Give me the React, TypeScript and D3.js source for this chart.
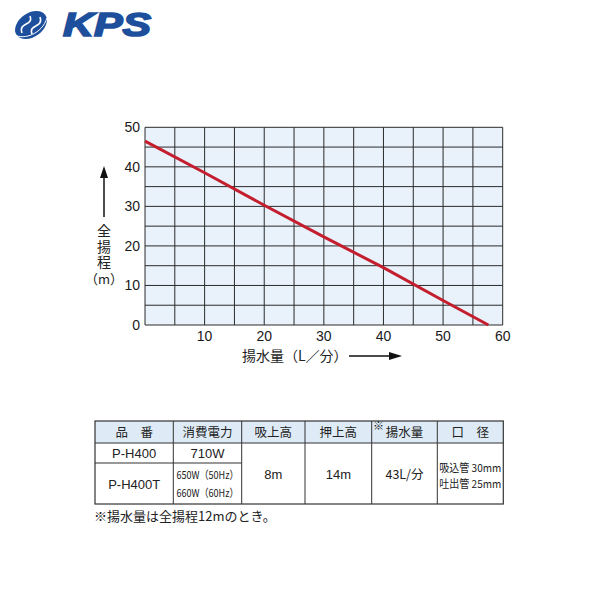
import React from "react";
import * as d3 from "d3";

const xTicks = [10, 20, 30, 40, 50, 60];
const yTicks = [0, 10, 20, 30, 40, 50];
const flow = [0, 10, 20, 30, 40, 50, 57.6];
const head = [46.5, 38.5, 30.3, 22.3, 14.5, 6.2, 0];

const tableHeaders = ["品　番", "消費電力", "吸上高", "押上高", "揚水量", "口　径"];
const models = ["P-H400", "P-H400T"];
const powers = ["710W", "650W（50Hz）", "660W（60Hz）"];
const suction = "8m";
const pushHead = "14m";
const capacity = "43L/分";
const bores = ["吸込管 30mm", "吐出管 25mm"];
const footnote = "※揚水量は全揚程12mのとき。";

const FONT = "'Liberation Sans', Arial, 'Noto Sans CJK JP', sans-serif";
const JP = "'Noto Sans CJK JP', 'Liberation Sans', sans-serif";

export default function App() {
  const x = d3.scaleLinear().domain([0, 60]).range([145, 502.7]);
  const y = d3.scaleLinear().domain([0, 50]).range([325, 127.3]);
  const gridX = d3.range(0, 61, 5);
  const gridY = d3.range(0, 51, 5);
  const pts = flow.map((f, i) => [f, head[i]] as [number, number]);
  const line = d3
    .line<[number, number]>()
    .x((d) => x(d[0]))
    .y((d) => y(d[1]));

  const colX = [95, 173.3, 241.7, 305, 371.7, 437.3, 503.3];
  const rowY = [421, 443, 463, 504];
  const cx = (i: number) => (colX[i] + colX[i + 1]) / 2;
  const border = "#333";

  return (
    <svg width={606} height={606} style={{ position: "absolute", left: 0, top: 0, background: "#fff" }}>
      {/* logo */}
      <g>
        <ellipse cx={31} cy={25} rx={17.5} ry={12} transform="rotate(-35 31 25)" fill="#1d4f9c" />
        <path d="M22,33 C18,22 34,26 30,16 M32,34 C28,24 44,28 40,17" stroke="#fff" strokeWidth={1.6} fill="none" />
        <path d="M15,35 C24,40 42,34 47,18" stroke="#fff" strokeWidth={1} fill="none" />
        <text
          x={63}
          y={36}
          fontFamily={FONT}
          fontWeight="bold"
          fontStyle="italic"
          fontSize={33}
          fill="#1d4f9c"
          stroke="#1d4f9c"
          strokeWidth={1.6}
          textLength={88}
          lengthAdjust="spacingAndGlyphs"
        >
          KPS
        </text>
      </g>

      {/* plot background */}
      <rect x={x(0)} y={y(50)} width={x(60) - x(0)} height={y(0) - y(50)} fill="#e9f2fb" />
      {gridX.map((g) => (
        <line key={"gx" + g} x1={x(g)} x2={x(g)} y1={y(0)} y2={y(50)} stroke="#2a2a2a" strokeWidth={1} />
      ))}
      {gridY.map((g) => (
        <line key={"gy" + g} x1={x(0)} x2={x(60)} y1={y(g)} y2={y(g)} stroke="#2a2a2a" strokeWidth={1} />
      ))}
      <path d={line(pts) || ""} fill="none" stroke="#c41e2e" strokeWidth={3} />

      {yTicks.map((t) => (
        <text key={"yt" + t} x={140} y={y(t) + 5} textAnchor="end" fontFamily={FONT} fontSize={14} fill="#1a1a1a">
          {t}
        </text>
      ))}
      {xTicks.map((t) => (
        <text key={"xt" + t} x={x(t)} y={341} textAnchor="middle" fontFamily={FONT} fontSize={14} fill="#1a1a1a">
          {t}
        </text>
      ))}

      {/* y axis title */}
      <line x1={104} x2={104} y1={217} y2={176} stroke="#111" strokeWidth={1.5} />
      <path d="M104,166 L100,178 L108,178 Z" fill="#111" />
      <text
        x={104}
        y={224}
        fontFamily={JP}
        fontSize={14}
        fill="#222"
        style={{ writingMode: "vertical-rl" as any }}
        letterSpacing={1.5}
      >
        全揚程
      </text>
      <text x={104} y={284} textAnchor="middle" fontFamily={JP} fontSize={13} fill="#222">
        （m）
      </text>

      {/* x axis title */}
      <text x={242} y={361} fontFamily={JP} fontSize={14} fill="#222">
        揚水量（L／分）
      </text>
      <line x1={349} x2={392} y1={356} y2={356} stroke="#111" strokeWidth={1.5} />
      <path d="M402,356 L389,352 L389,360 Z" fill="#111" />

      {/* table */}
      <rect x={colX[0]} y={rowY[0]} width={colX[6] - colX[0]} height={rowY[1] - rowY[0]} fill="#deebf6" />
      <rect x={colX[0]} y={rowY[1]} width={colX[6] - colX[0]} height={rowY[3] - rowY[1]} fill="#fff" />
      <rect x={colX[0]} y={rowY[0]} width={colX[6] - colX[0]} height={rowY[3] - rowY[0]} fill="none" stroke={border} strokeWidth={1.2} />
      {colX.slice(1, 6).map((c, i) => (
        <line key={"cl" + i} x1={c} x2={c} y1={rowY[0]} y2={rowY[3]} stroke={border} strokeWidth={1} />
      ))}
      <line x1={colX[0]} x2={colX[6]} y1={rowY[1]} y2={rowY[1]} stroke={border} strokeWidth={1} />
      <line x1={colX[0]} x2={colX[2]} y1={rowY[2]} y2={rowY[2]} stroke={border} strokeWidth={1} />

      {tableHeaders.map((h, i) => (
        <text key={"h" + i} x={cx(i)} y={437} textAnchor="middle" fontFamily={JP} fontSize={12.5} fill="#222">
          {h}
        </text>
      ))}
      <text x={cx(4) - 26} y={430} textAnchor="middle" fontFamily={JP} fontSize={11} fill="#222">
        ※
      </text>

      <text x={cx(0)} y={458} textAnchor="middle" fontFamily={FONT} fontSize={13} fill="#222">
        {models[0]}
      </text>
      <text x={cx(0)} y={489} textAnchor="middle" fontFamily={FONT} fontSize={13} fill="#222">
        {models[1]}
      </text>
      <text x={cx(1)} y={458} textAnchor="middle" fontFamily={FONT} fontSize={13} fill="#222">
        {powers[0]}
      </text>
      <text x={cx(1)} y={479} textAnchor="middle" fontFamily={JP} fontSize={11} fill="#222" textLength={62} lengthAdjust="spacingAndGlyphs">
        {powers[1]}
      </text>
      <text x={cx(1)} y={497} textAnchor="middle" fontFamily={JP} fontSize={11} fill="#222" textLength={62} lengthAdjust="spacingAndGlyphs">
        {powers[2]}
      </text>
      <text x={cx(2)} y={479} textAnchor="middle" fontFamily={FONT} fontSize={13} fill="#222">
        {suction}
      </text>
      <text x={cx(3)} y={479} textAnchor="middle" fontFamily={FONT} fontSize={13} fill="#222">
        {pushHead}
      </text>
      <text x={cx(4)} y={479} textAnchor="middle" fontFamily={JP} fontSize={12.5} fill="#222">
        {capacity}
      </text>
      {bores.map((b, i) => (
        <text key={b} x={cx(5)} y={472 + i * 16} textAnchor="middle" fontFamily={JP} fontSize={11} fill="#222" textLength={62} lengthAdjust="spacingAndGlyphs">
          {b}
        </text>
      ))}

      <text x={94} y={521} fontFamily={JP} fontSize={13} fill="#222">
        {footnote}
      </text>
    </svg>
  );
}
